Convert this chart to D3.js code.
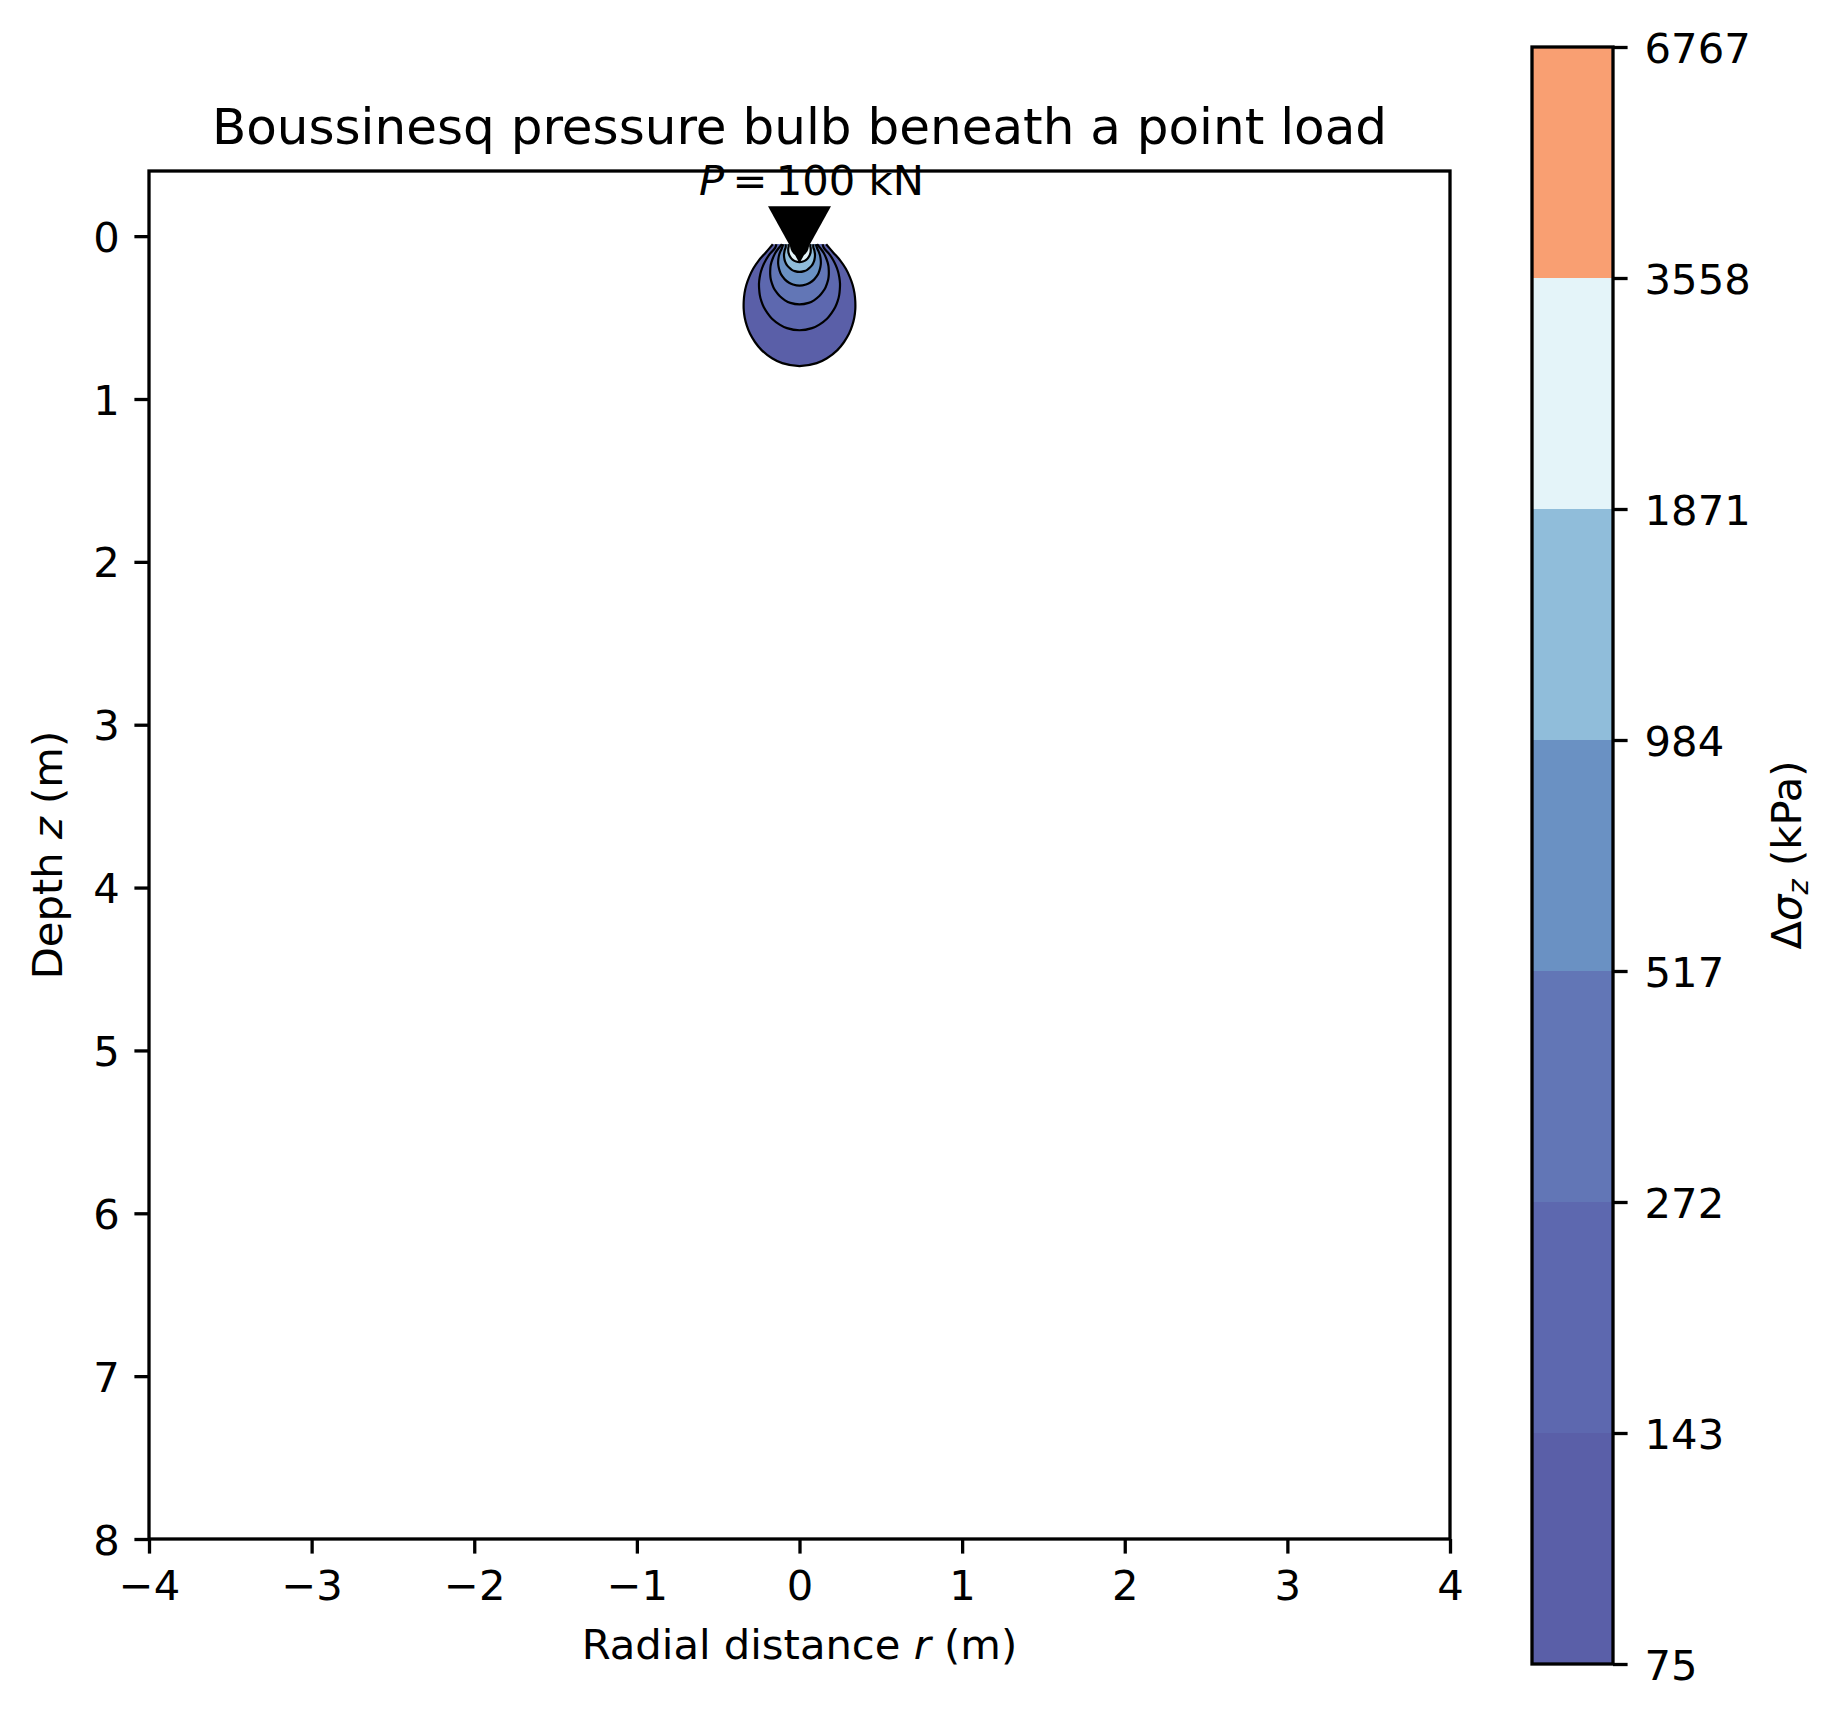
<!DOCTYPE html>
<html>
<head>
<script src="https://d3js.org/d3.v7.min.js"></script>
<style>
body{margin:0;background:#fff;}
svg text{font-family:"DejaVu Sans",sans-serif;fill:#000;}
</style>
</head>
<body>
<div id="chart"></div>
<script>
// contour levels (kPa)
var levels = [75, 143, 272, 517, 984, 1871, 3558, 6767];
var bandColors = ["#5a5fa8", "#5d68af", "#6276b6", "#6a91c3", "#90bdda", "#e4f4f9", "#f99f72"];

// right half of each bulb outline, [r (m), z (m)], top to bottom (mirrored for r<0)
var bulb75 = [[0.164,0.05],[0.207,0.1],[0.251,0.15],[0.285,0.2],[0.309,0.25],[0.327,0.3],[0.338,0.35],[0.343,0.4],[0.343,0.45],[0.337,0.5],[0.324,0.55],[0.304,0.6],[0.274,0.65],[0.233,0.7],[0.169,0.75],[0.106,0.78],[0,0.798]];
var bulb143 = [[0.142,0.05],[0.150,0.072],[0.182,0.109],[0.206,0.145],[0.224,0.181],[0.237,0.217],[0.245,0.254],[0.249,0.29],[0.248,0.326],[0.244,0.362],[0.235,0.398],[0.220,0.435],[0.198,0.471],[0.169,0.507],[0.122,0.543],[0.077,0.565],[0,0.578]];
var bulb272 = [[0.108,0.05],[0.132,0.079],[0.150,0.105],[0.162,0.131],[0.172,0.158],[0.178,0.184],[0.180,0.21],[0.180,0.236],[0.177,0.263],[0.170,0.289],[0.160,0.315],[0.144,0.341],[0.122,0.368],[0.089,0.394],[0.056,0.41],[0,0.419]];
var bulb517 = [[0.100,0.05],[0.109,0.076],[0.118,0.095],[0.125,0.114],[0.129,0.133],[0.131,0.152],[0.131,0.171],[0.128,0.191],[0.123,0.21],[0.116,0.229],[0.104,0.248],[0.089,0.267],[0.064,0.286],[0.040,0.297],[0,0.304]];
var bulb984 = [[0.085,0.05],[0.085,0.069],[0.090,0.083],[0.093,0.097],[0.095,0.110],[0.095,0.124],[0.093,0.138],[0.090,0.152],[0.084,0.166],[0.076,0.180],[0.064,0.193],[0.047,0.207],[0.029,0.215],[0,0.220]];
var bulb1871 = [[0.070,0.05],[0.066,0.060],[0.068,0.070],[0.069,0.080],[0.069,0.090],[0.068,0.100],[0.065,0.110],[0.061,0.120],[0.055,0.130],[0.047,0.140],[0.034,0.150],[0.021,0.156],[0,0.160]];
var bulb3558 = [[0.048,0.05],[0.050,0.058],[0.050,0.065],[0.049,0.073],[0.047,0.080],[0.044,0.087],[0.040,0.094],[0.034,0.102],[0.025,0.109],[0.015,0.113],[0,0.116]];
var bulbs = [bulb75, bulb143, bulb272, bulb517, bulb984, bulb1871, bulb3558];

var xTicks = [-4, -3, -2, -1, 0, 1, 2, 3, 4];
var zTicks = [0, 1, 2, 3, 4, 5, 6, 7, 8];
var loadR = 0, loadZ = 0;

var svg = d3.select("#chart").append("svg")
    .attr("width", 1838)
    .attr("height", 1719);
svg.append("rect").attr("width", 1838).attr("height", 1719).attr("fill", "#fff");

var x = d3.scaleLinear().domain([-4, 4]).range([149, 1450]);
var y = d3.scaleLinear().domain([-0.4, 8]).range([171, 1539]);

var line = d3.line()
    .x(function(d) { return x(d[0]); })
    .y(function(d) { return y(d[1]); })
    .curve(d3.curveCatmullRom);

function outline(p) {
    var left = p.map(function(d) { return [-d[0], d[1]]; });
    var right = p.slice().reverse().slice(1);
    return left.concat(right);
}

// filled bands, outer to inner
svg.append("g").selectAll("path.band").data(bulbs).enter()
    .append("path").attr("class", "band")
    .attr("d", function(d) { return line(outline(d)) + "Z"; })
    .attr("fill", function(d, i) { return bandColors[i]; })
    .attr("stroke", "none");

// contour lines
svg.append("g").selectAll("path.cline").data(bulbs).enter()
    .append("path").attr("class", "cline")
    .attr("d", function(d) { return line(outline(d)); })
    .attr("fill", "none")
    .attr("stroke", "#000")
    .attr("stroke-width", 2.2);

// load marker
svg.append("path")
    .attr("transform", "translate(" + x(loadR) + "," + y(loadZ) + ")")
    .attr("d", "M-31.5,-30L31.5,-30L0,27Z")
    .attr("fill", "#000");

var pText = svg.append("text")
    .attr("x", x(0) + 12).attr("y", y(-0.252))
    .attr("text-anchor", "middle")
    .style("font-size", "41.7px");
pText.append("tspan").style("font-style", "italic").text("P");
pText.append("tspan").text("\u2009=\u2009100 kN");

// axes
var fmt = function(d) { return d < 0 ? "\u2212" + Math.abs(d) : String(d); };
var xAxis = svg.append("g")
    .attr("transform", "translate(0,1539)")
    .call(d3.axisBottom(x).tickValues(xTicks).tickSize(14.6).tickPadding(17).tickFormat(fmt));
var yAxis = svg.append("g")
    .attr("transform", "translate(149,0)")
    .call(d3.axisLeft(y).tickValues(zTicks).tickSize(14.6).tickPadding(14.6).tickFormat(fmt));
[xAxis, yAxis].forEach(function(g) {
    g.attr("font-family", null).attr("font-size", null);
    g.select(".domain").remove();
    g.selectAll(".tick line").attr("stroke", "#000").attr("stroke-width", 3.3);
    g.selectAll(".tick text").style("font-size", "41.7px");
});
yAxis.selectAll(".tick text").attr("dy", "0.36em");

svg.append("rect")
    .attr("x", 149).attr("y", 171)
    .attr("width", 1450 - 149).attr("height", 1539 - 171)
    .attr("fill", "none").attr("stroke", "#000").attr("stroke-width", 3.3);

// titles
svg.append("text")
    .attr("x", 799.5).attr("y", 144)
    .attr("text-anchor", "middle")
    .style("font-size", "50px")
    .text("Boussinesq pressure bulb beneath a point load");

var xl = svg.append("text")
    .attr("x", 799.5).attr("y", 1659)
    .attr("text-anchor", "middle")
    .style("font-size", "41.7px");
xl.append("tspan").text("Radial distance ");
xl.append("tspan").style("font-style", "italic").text("r");
xl.append("tspan").text(" (m)");

var yl = svg.append("text")
    .attr("transform", "translate(62,855) rotate(-90)")
    .attr("text-anchor", "middle")
    .style("font-size", "41.7px");
yl.append("tspan").text("Depth ");
yl.append("tspan").style("font-style", "italic").text("z");
yl.append("tspan").text(" (m)");

// colorbar
var cb = d3.scalePoint().domain(levels).range([1664, 47]);
svg.append("g").selectAll("rect").data(bandColors).enter()
    .append("rect")
    .attr("x", 1532)
    .attr("width", 1613 - 1532)
    .attr("y", function(d, i) { return cb(levels[i + 1]); })
    .attr("height", function(d, i) { return cb(levels[i]) - cb(levels[i + 1]); })
    .attr("fill", function(d) { return d; });
svg.append("rect")
    .attr("x", 1532).attr("y", 47)
    .attr("width", 1613 - 1532).attr("height", 1664 - 47)
    .attr("fill", "none").attr("stroke", "#000").attr("stroke-width", 3.3);
var cbAxis = svg.append("g")
    .attr("transform", "translate(1613,0)")
    .call(d3.axisRight(cb).tickSize(14.6).tickPadding(17));
cbAxis.attr("font-family", null).attr("font-size", null);
cbAxis.select(".domain").remove();
cbAxis.selectAll(".tick line").attr("stroke", "#000").attr("stroke-width", 3.3);
cbAxis.selectAll(".tick text").style("font-size", "41.7px").attr("dy", "0.36em");

var cl = svg.append("text")
    .attr("transform", "translate(1801,855) rotate(-90)")
    .attr("text-anchor", "middle")
    .style("font-size", "41.7px");
cl.append("tspan").text("\u0394");
cl.append("tspan").style("font-style", "italic").text("\u03c3");
cl.append("tspan").style("font-style", "italic").style("font-size", "29px").attr("dy", "7").text("z");
cl.append("tspan").attr("dy", "-7").text(" (kPa)");
</script>
</body>
</html>
